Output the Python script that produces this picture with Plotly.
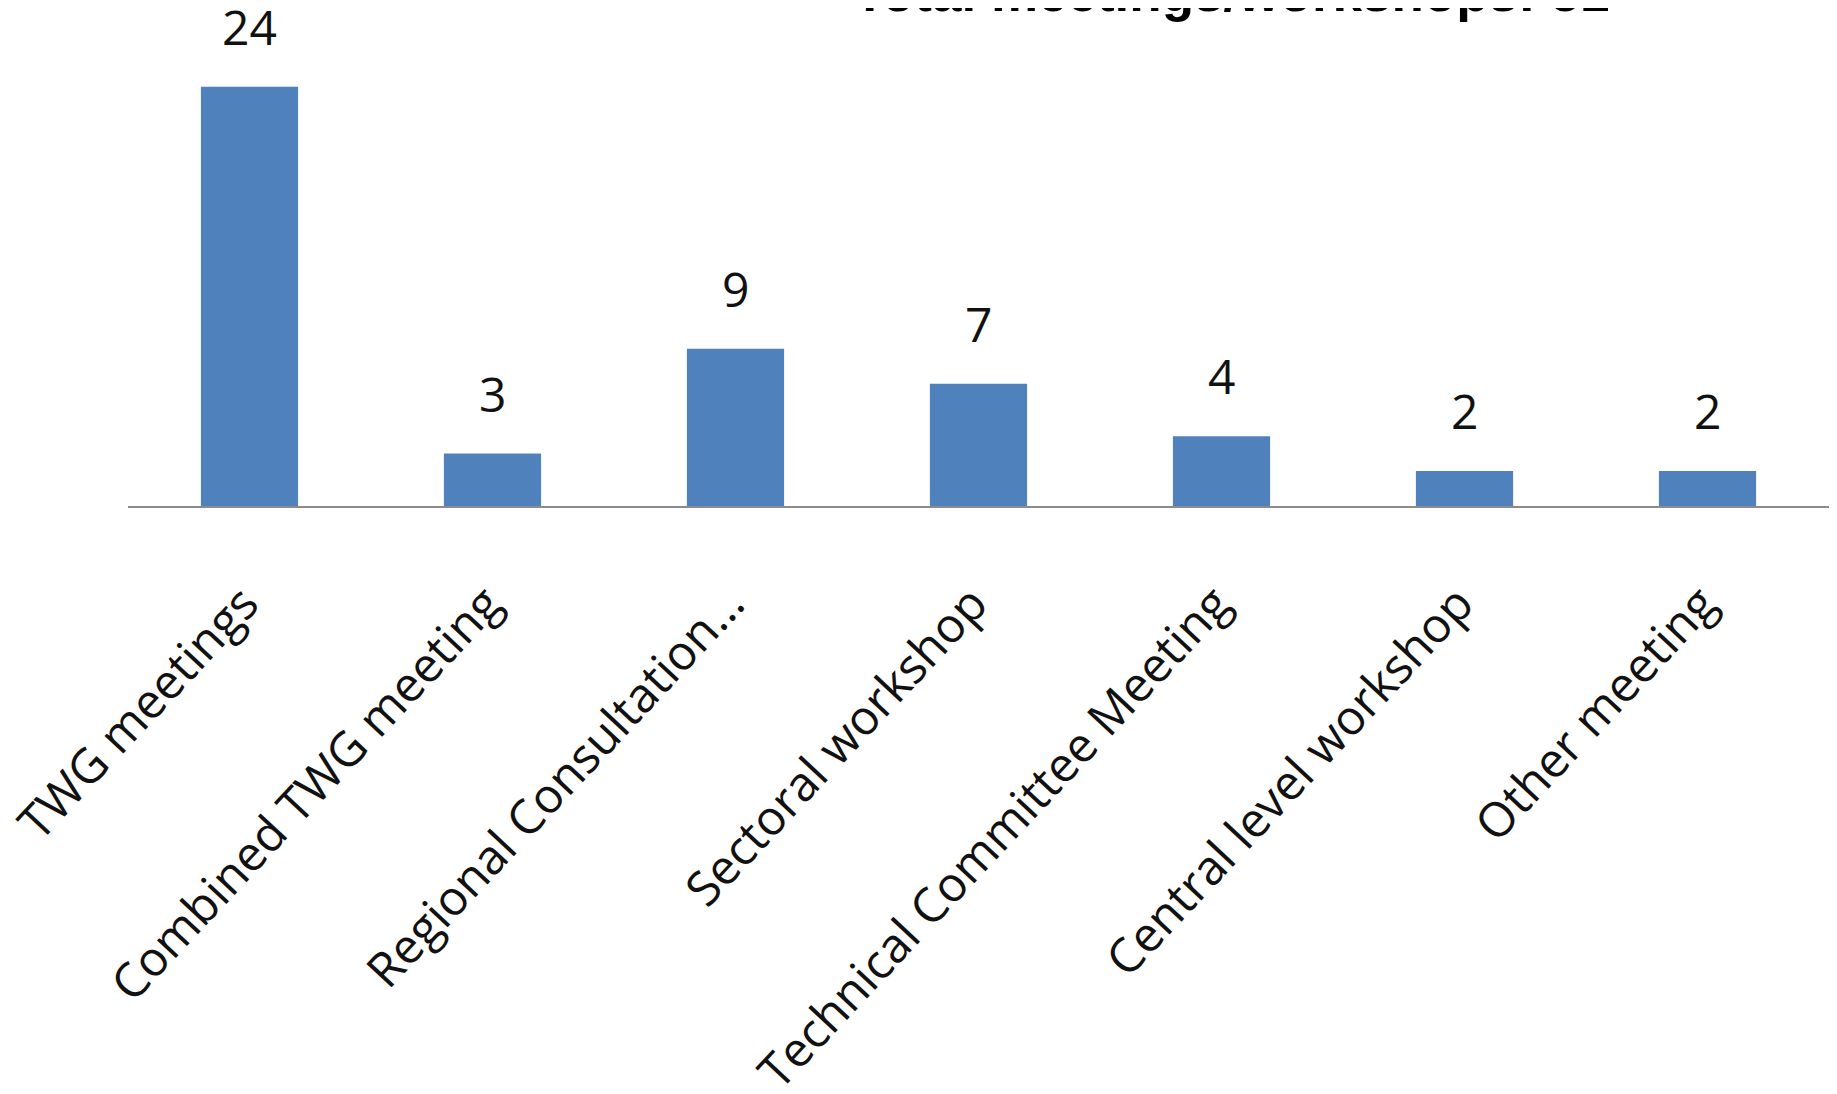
import plotly.graph_objects as go

categories = ["TWG meetings", "Combined TWG meeting", "Regional Consultation\u2026",
              "Sectoral workshop", "Technical Committee Meeting",
              "Central level workshop", "Other meeting"]
values = [24, 3, 9, 7, 4, 2, 2]
title_text = "Total meetings/workshops: 51"

BAR = "#4F81BD"
FONT = "Open Sans"

fig = go.Figure()
fig.add_trace(go.Bar(x=categories, y=values, marker=dict(color=BAR, line=dict(width=0)),
                     hoverinfo="skip"))

for c, v in zip(categories, values):
    fig.add_annotation(x=c, y=v, text=str(v), showarrow=False, xref="x", yref="y",
                       yanchor="bottom", yshift=26,
                       font=dict(family=FONT, size=48, color="#111111"))

fig.update_layout(
    width=1837, height=1094,
    margin=dict(l=120, r=16, t=9, b=596),
    paper_bgcolor="white", plot_bgcolor="white",
    bargap=0.6,
    showlegend=False,
    title=dict(text="<b>" + title_text + "</b>", x=0.666, xanchor="center",
               y=0.997, yanchor="bottom", yref="container",
               font=dict(family="Liberation Sans", size=53, color="#000000")),
    xaxis=dict(showline=True, linecolor="#8C8C8C", linewidth=2, showgrid=False,
               tickangle=-47, ticks="", ticklabelstandoff=48, ticklabelshift=-6,
               tickfont=dict(family=FONT, size=48, color="#111111"), automargin=False),
    yaxis=dict(range=[0, 28], visible=False, showgrid=False, zeroline=False),
)

fig.write_html("out.html")
